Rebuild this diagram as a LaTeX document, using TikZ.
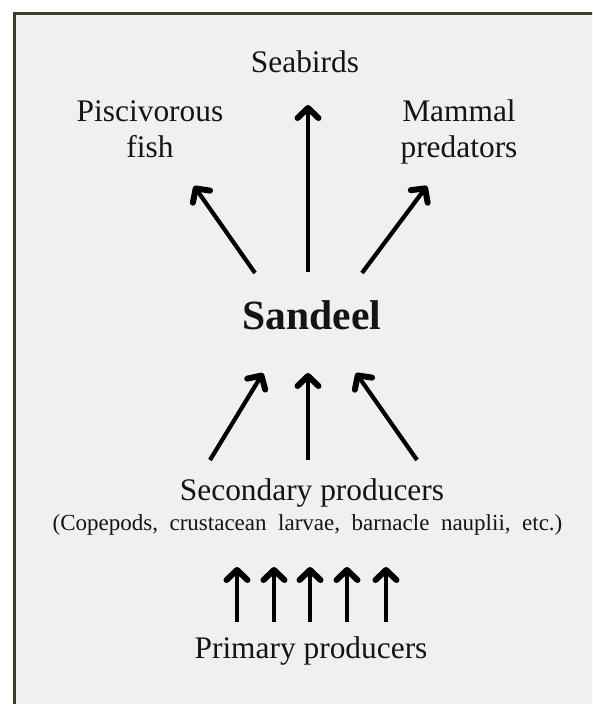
\documentclass[tikz,border=0pt]{standalone}
\usepackage{fontspec}
\setmainfont{Liberation Serif}
\usetikzlibrary{arrows.meta}
\definecolor{panel}{HTML}{F0F0F0}
\definecolor{frame}{HTML}{403C2A}
\begin{document}
\begin{tikzpicture}[x=1pt,y=-1pt,
  food/.style={line width=4.2pt,-{Straight Barb[length=10pt,width=21pt,line width=6pt,round]}},
  lbl/.style={anchor=base,align=center,text=black!92,font=\fontsize{31.4}{36}\selectfont}]
\useasboundingbox (0,0) rectangle (592,704);
\clip (0,0) rectangle (592,704);
\fill[white] (0,0) rectangle (592,704);
\draw[frame,line width=3pt,fill=panel] (14.5,13.5) rectangle (610,720);
% predators
\node[lbl] (seabirds) at (305,72) {Seabirds};
\node[lbl] (fish) at (150,157) {Piscivorous\\fish};
\node[lbl] (mammals) at (459,157) {Mammal\\predators};
\node[lbl,font=\fontsize{41.6}{48}\bfseries] (sandeel) at (312,329) {Sandeel};
% prey
\node[lbl] (secondary) at (312,500) {Secondary producers};
\node[lbl,font=\fontsize{23}{27}\selectfont] (copepods) at (307.5,530)
  {(Copepods,~~crustacean~~larvae,~~barnacle~~nauplii,~~etc.)};
\node[lbl] (primary) at (311,658) {Primary producers};
% arrow ends
\coordinate (a1) at (255,273); \coordinate (b1) at (194,186);
\coordinate (a2) at (308,272); \coordinate (b2) at (308,105);
\coordinate (a3) at (362,273); \coordinate (b3) at (427,186);
\coordinate (c1) at (210,460); \coordinate (d1) at (263,373);
\coordinate (c2) at (308,460); \coordinate (d2) at (308,373);
\coordinate (c3) at (417,460); \coordinate (d3) at (356,373);
\foreach \i in {1,2,3} {
  \draw[food] (a\i) -- (b\i);
  \draw[food] (c\i) -- (d\i);
}
\foreach \x [count=\k] in {237,274,310,347,386} {
  \coordinate (p\k) at (\x,622);
  \draw[food] (p\k) -- ++(0,-55);
}
\end{tikzpicture}
\end{document}
